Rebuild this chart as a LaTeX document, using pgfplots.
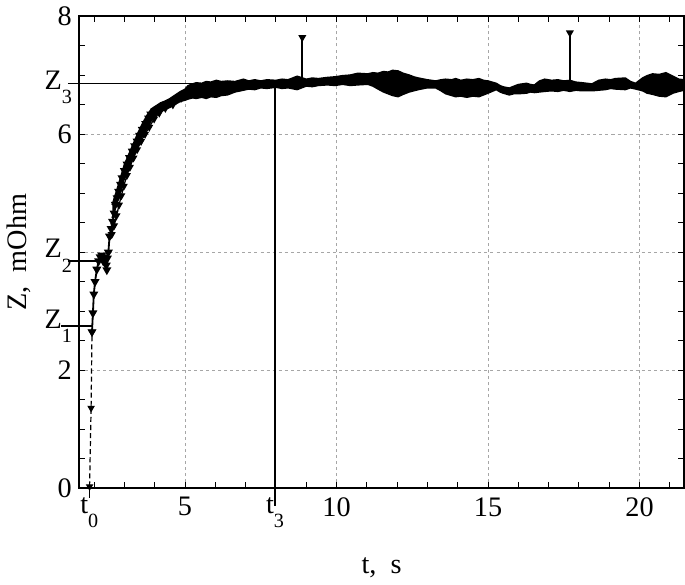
\documentclass[border=0pt]{standalone}
\usepackage{fontspec}
\setmainfont{Liberation Serif}
\usepackage{pgfplots}
\usepackage{pgfplotstable}
\pgfplotsset{compat=1.18}
\usepgfplotslibrary{fillbetween}

\newcommand{\sub}[1]{\raisebox{-0.5em}{\fontsize{10}{10}\selectfont #1}}

% noisy plateau: lower and upper edge of the band
\pgfplotstableread{
x     lo    hi
2.60  4.58  4.80
2.80  4.93  5.13
3.00  5.26  5.48
3.15  5.42  5.66
3.30  5.64  5.84
3.45  5.80  6.02
3.60  5.98  6.18
3.75  6.10  6.32
3.90  6.25  6.43
4.05  6.33  6.48
4.20  6.39  6.53
4.35  6.42  6.56
4.50  6.46  6.60
4.70  6.52  6.67
4.85  6.56  6.72
5.00  6.58  6.76
5.10  6.60  6.82
5.25  6.62  6.85
5.37  6.61  6.87
5.55  6.63  6.86
5.70  6.61  6.89
5.85  6.64  6.88
6.03  6.63  6.91
6.20  6.66  6.89
6.40  6.67  6.90
6.65  6.72  6.89
6.93  6.75  6.93
7.10  6.77  6.90
7.30  6.76  6.92
7.50  6.79  6.90
7.70  6.78  6.92
8.00  6.80  6.91
8.20  6.78  6.93
8.40  6.79  6.92
8.70  6.76  6.98
9.00  6.82  6.93
9.20  6.81  6.95
9.40  6.83  6.94
9.70  6.84  6.96
9.95  6.83  6.97
10.20 6.85  6.99
10.45 6.83  7.00
10.70 6.84  7.03
11.03 6.85  7.02
11.20 6.82  7.04
11.37 6.77  7.03
11.55 6.72  7.06
11.70 6.69  7.05
11.85 6.66  7.08
12.03 6.64  7.07
12.20 6.68  7.03
12.40 6.72  7.00
12.55 6.74  6.97
12.70 6.76  6.95
13.00 6.79  6.92
13.27 6.79  6.90
13.45 6.74  6.92
13.60 6.69  6.93
13.80 6.66  6.92
13.93 6.64  6.94
14.10 6.65  6.91
14.30 6.63  6.93
14.50 6.65  6.92
14.70 6.64  6.94
14.85 6.67  6.91
15.00 6.70  6.90
15.27 6.76  6.86
15.40 6.72  6.82
15.50 6.70  6.80
15.70 6.67  6.78
15.85 6.69  6.81
16.00 6.69  6.84
16.27 6.70  6.86
16.40 6.72  6.84
16.53 6.71  6.83
16.70 6.72  6.90
16.87 6.73  6.93
17.10 6.74  6.91
17.30 6.73  6.92
17.50 6.75  6.90
17.70 6.73  6.91
17.90 6.75  6.88
18.10 6.74  6.87
18.43 6.74  6.85
18.65 6.75  6.91
18.87 6.76  6.93
19.05 6.78  6.92
19.20 6.77  6.94
19.53 6.76  6.95
19.70 6.79  6.89
19.87 6.77  6.86
20.10 6.74  6.95
20.25 6.70  6.99
20.43 6.68  7.02
20.65 6.65  7.01
20.87 6.64  7.04
21.10 6.70  6.98
21.30 6.73  6.93
21.47 6.75  6.92
}\band

\begin{document}
\begin{tikzpicture}
\begin{axis}[
    width=300pt, height=234pt, scale only axis,
    xmin=1.5, xmax=21.47, ymin=0, ymax=8,
    xtick={5,10,15,20},
    minor xtick={2,3,4,6,7,8,9,11,12,13,14,16,17,18,19,21},
    ytick={0,2,4,6,8}, yticklabels={0,2,,6,8},
    minor ytick={0.5,1,1.5,2.5,3,3.5,4.5,5,5.5,6.5,7,7.5},
    extra x ticks={1.84,7.97}, extra x tick labels={t\sub{0},t\sub{3}},
    extra y ticks={2.74,3.94,6.80}, extra y tick labels={Z\sub{1},Z\sub{2},Z\sub{3}},
    extra tick style={grid=none, major tick length=0pt},
    grid=major,
    major grid style={gray!70, line width=0.4pt, dash pattern=on 1.5pt off 1.5pt},
    axis line style={line width=0.8pt},
    tick style={black, line width=0.5pt},
    major tick length=3pt, minor tick length=3pt,
    tick label style={font=\fontsize{14}{15}\selectfont},
    xticklabel style={yshift=-1pt},
    /pgf/number format/assume math mode=true,
    xlabel={t,\ \ s}, ylabel={Z,\ \ mOhm},
    label style={font=\fontsize{14}{15}\selectfont},
    xlabel style={yshift=-8pt},
    clip=false,
]
    % annotation lines
    \addplot[black, line width=0.6pt] coordinates {(1.13,6.86) (7.97,6.86) (7.97,-0.30)};
    \addplot[black, line width=0.6pt] coordinates {(1.13,3.85) (2.05,3.85)};
    \addplot[black, line width=0.6pt] coordinates {(0.90,2.75) (1.93,2.75)};
    \addplot[black, line width=0.6pt] coordinates {(1.84,0) (1.84,-0.17)};

    % initial jump (dashed)
    \addplot[black, line width=0.6pt, dash pattern=on 2.5pt off 1.5pt,
        mark=triangle*, mark size=1.6pt, mark options={solid, rotate=180}]
        coordinates {(1.85,0.03) (1.90,1.36) (1.93,2.65)};

    % rising part
    \addplot[black, line width=0.9pt, mark=triangle*, mark size=1.7pt,
        mark options={rotate=180}] coordinates {
        (1.93,2.65) (1.96,2.97) (1.99,3.29) (2.03,3.50) (2.09,3.71)
        (2.15,3.85) (2.20,3.92) (2.25,3.95) (2.30,3.85) (2.35,3.92)
        (2.40,3.78) (2.42,3.70) (2.44,3.90) (2.47,4.00) (2.51,4.27)
        (2.56,4.40) (2.61,4.52) (2.66,4.66) (2.70,4.81) (2.76,4.92)
        (2.81,5.03) (2.87,5.15) (2.92,5.26) (3.00,5.38) (3.09,5.49)
        (3.17,5.60) (3.26,5.71) (3.34,5.80) (3.42,5.88) (3.50,5.98)
        (3.59,6.08) (3.70,6.18) (3.80,6.27) (3.87,6.34) (4.00,6.39)
        (4.10,6.42) (4.20,6.45) (4.35,6.49) (4.53,6.53) (4.70,6.58)
        (4.87,6.62) (5.03,6.68)
    };
    \addplot[black, line width=0.6pt, mark=triangle*, mark size=1.7pt,
        mark options={rotate=180}] coordinates {
        (2.58,4.30) (2.66,4.45) (2.74,4.62) (2.82,4.80) (2.90,4.96)
        (2.98,5.12) (3.08,5.30) (3.18,5.44) (3.30,5.60) (3.42,5.74)
        (3.55,5.88) (3.68,6.00) (3.82,6.12) (3.98,6.26) (4.15,6.36)
        (4.35,6.44) (4.60,6.50)
    };

    % noisy band
    \addplot[name path=lo, black, line width=0.9pt] table[x=x, y=lo] {\band};
    \addplot[name path=hi, black, line width=0.9pt] table[x=x, y=hi] {\band};
    \addplot[black] fill between[of=lo and hi];

    % spikes
    \addplot[black, line width=0.8pt, mark=triangle*, mark size=1.5pt,
        mark options={rotate=180}, mark indices={2}]
        coordinates {(8.87,6.90) (8.87,7.64)};
    \addplot[black, line width=0.8pt, mark=triangle*, mark size=1.5pt,
        mark options={rotate=180}, mark indices={2}]
        coordinates {(17.70,6.90) (17.70,7.72)};
\end{axis}
\end{tikzpicture}
\end{document}
